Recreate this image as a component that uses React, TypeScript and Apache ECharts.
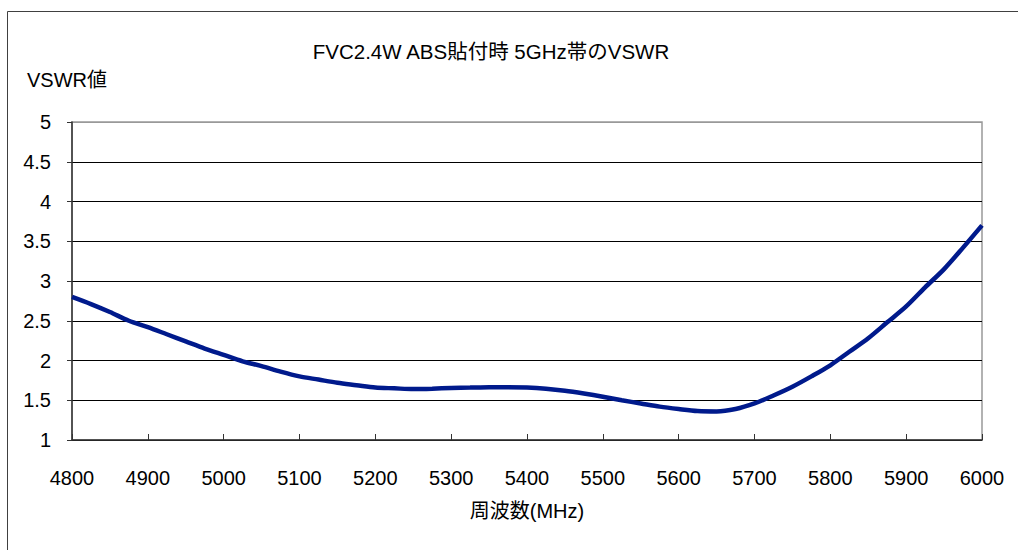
import React, { useEffect, useRef } from "react";
import * as echarts from "echarts";

const titleText = "FVC2.4W ABS貼付時 5GHz帯のVSWR";
const yName = "VSWR値";
const xName = "周波数(MHz)";

const freqs = [
  4800, 4825, 4850, 4875, 4900, 4925, 4950, 4975, 5000, 5025, 5050, 5075, 5100,
  5125, 5150, 5175, 5200, 5225, 5250, 5275, 5300, 5325, 5350, 5375, 5400, 5425,
  5450, 5475, 5500, 5525, 5550, 5575, 5600, 5625, 5650, 5675, 5700, 5725, 5750,
  5775, 5800, 5825, 5850, 5875, 5900, 5925, 5950, 5975, 6000,
];
const vswr = [
  2.8, 2.71, 2.61, 2.5, 2.42, 2.33, 2.24, 2.15, 2.07, 1.99, 1.93, 1.86, 1.8,
  1.76, 1.72, 1.69, 1.66, 1.65, 1.64, 1.645, 1.655, 1.66, 1.665, 1.665, 1.66, 1.645,
  1.62, 1.585, 1.545, 1.5, 1.46, 1.42, 1.39, 1.365, 1.36, 1.39, 1.46, 1.56, 1.67,
  1.8, 1.94, 2.11, 2.28, 2.48, 2.68, 2.92, 3.15, 3.42, 3.7,
];

const font = "'Liberation Sans', Arial, 'Noto Sans CJK JP', sans-serif";

export default function App() {
  const ref = useRef<HTMLDivElement>(null);
  useEffect(() => {
    if (!ref.current) return;
    const chart = echarts.init(ref.current, undefined, { renderer: "svg" });
    const data = freqs.map((f, i) => [f, vswr[i]]);
    chart.setOption({
      animation: false,
      backgroundColor: "#ffffff",
      textStyle: { fontFamily: font, color: "#000" },
      graphic: [
        {
          type: "rect",
          shape: { x: 7.5, y: 11.5, width: 1200, height: 700 },
          style: { fill: "none", stroke: "#404040", lineWidth: 1 },
          silent: true,
        },
        {
          type: "text",
          x: 491,
          y: 51,
          style: {
            text: titleText,
            font: `20.5px ${font}`,
            fill: "#000",
            align: "center",
            verticalAlign: "middle",
          },
        },
        {
          type: "text",
          x: 27,
          y: 80,
          style: {
            text: yName,
            font: `20px ${font}`,
            fill: "#000",
            align: "left",
            verticalAlign: "middle",
          },
        },
      ],
      grid: {
        left: 72,
        top: 122,
        width: 910,
        height: 318,
        show: true,
        borderColor: "#999",
        borderWidth: 1.5,
        backgroundColor: "transparent",
      },
      xAxis: {
        type: "value",
        min: 4800,
        max: 6000,
        interval: 100,
        name: xName,
        nameLocation: "middle",
        nameGap: 61,
        nameTextStyle: { fontSize: 20, color: "#000", fontFamily: font },
        axisLine: { show: true, lineStyle: { color: "#333", width: 1.5 } },
        axisTick: { show: true, inside: true, length: 6, lineStyle: { color: "#333", width: 1 } },
        axisLabel: {
          fontSize: 20,
          color: "#000",
          margin: 28,
          fontFamily: font,
          formatter: (v: number) => String(v),
        },
        splitLine: { show: false },
      },
      yAxis: {
        type: "value",
        min: 1,
        max: 5,
        interval: 0.5,
        axisLine: { show: true, lineStyle: { color: "#333", width: 1.5 } },
        axisTick: { show: true, inside: false, length: 5, lineStyle: { color: "#333", width: 1 } },
        axisLabel: {
          fontSize: 20,
          color: "#000",
          margin: 21,
          fontFamily: font,
          formatter: (v: number) => String(v),
        },
        splitLine: {
          show: true,
          lineStyle: {
            color: ["#000", "#000", "#000", "#000", "#000", "#000", "#000", "#000", "#999"],
            width: 1,
          },
        },
      },
      series: [
        {
          type: "line",
          data,
          showSymbol: false,
          smooth: 0.3,
          lineStyle: { color: "#001a8c", width: 4.5 },
          itemStyle: { color: "#001a8c" },
        },
      ],
    });
    return () => chart.dispose();
  }, []);
  return (
    <div
      ref={ref}
      style={{ position: "fixed", left: 0, top: 0, width: 1018, height: 550 }}
    />
  );
}
